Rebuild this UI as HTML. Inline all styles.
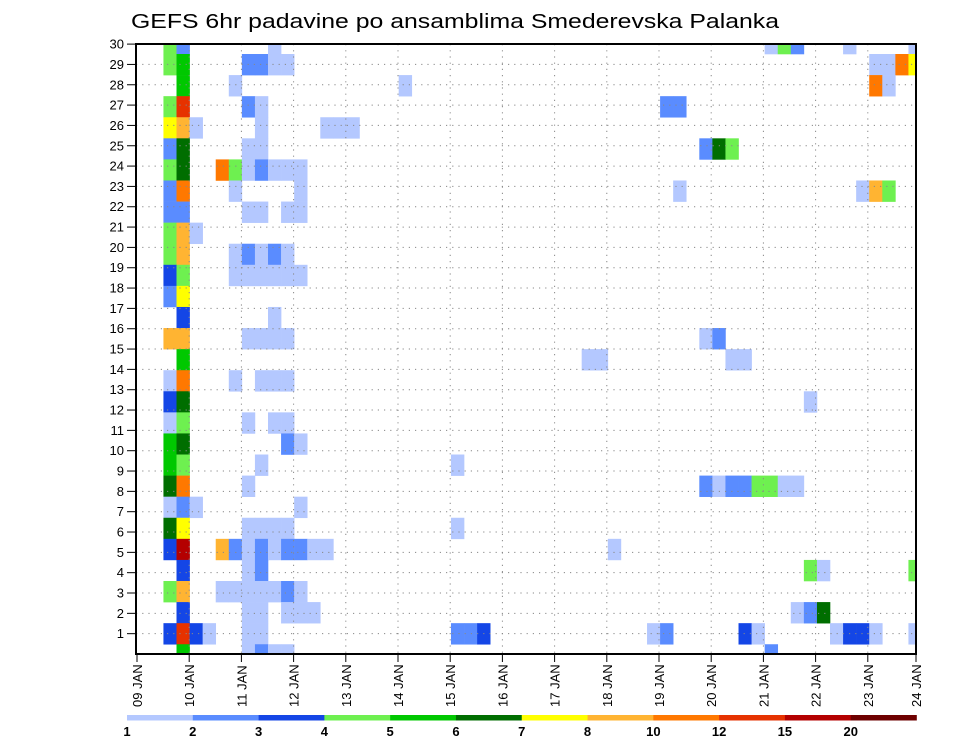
<!DOCTYPE html>
<html><head><meta charset="utf-8"><style>
html,body{margin:0;padding:0;background:#fff;}
svg{display:block;font-family:"Liberation Sans",sans-serif;}
</style></head><body>
<svg id="chart" width="960" height="742" viewBox="0 0 960 742" xmlns="http://www.w3.org/2000/svg">
<rect width="960" height="742" fill="#fff"/>
<text x="131" y="28" font-size="20" textLength="648" lengthAdjust="spacingAndGlyphs" fill="#000">GEFS 6hr padavine po ansamblima Smederevska Palanka</text>
<g id="cells"></g>
<g id="grid"></g>
<g id="axes"></g>
<g id="legend"></g>
</svg>
<script>
// time step index (6h steps from 09 JAN 00Z), ensemble row (member), precipitation value (mm)
const steps = [2,3,10,48,49,50,54,59, 2,3,8,9,10,11,56,57,58,59, 3,7,20,56,57, 2,3,8,9,40,41, 2,3,4,9,14,15,16, 2,3,8,9,43,44,45, 2,3,6,7,8,9,10,11,12, 2,3,7,12,41,55,56,57, 2,3,8,9,11,12, 2,3,4, 2,3,7,8,9,10,11, 2,3,7,8,9,10,11,12, 2,3, 3,10, 2,3,8,9,10,11,43,44, 3,34,35,45,46, 2,3,7,9,10,11, 2,3,51, 2,3,8,10,11, 2,3,11,12, 2,3,9,24, 2,3,8,43,44,45,46,47,48,49,50, 2,3,4,12, 2,3,8,9,10,11,24, 2,3,6,7,8,9,10,11,12,13,14,36, 3,8,9,51,52,59, 2,3,6,7,8,9,10,11,12, 3,8,9,11,12,13,50,51,52, 2,3,4,5,8,9,24,25,26,39,40,46,47,53,54,55,56,59, 3,8,9,10,11,48];
const members = [30,30,30,30,30,30,30,30, 29,29,29,29,29,29,29,29,29,29, 28,28,28,28,28, 27,27,27,27,27,27, 26,26,26,26,26,26,26, 25,25,25,25,25,25,25, 24,24,24,24,24,24,24,24,24, 23,23,23,23,23,23,23,23, 22,22,22,22,22,22, 21,21,21, 20,20,20,20,20,20,20, 19,19,19,19,19,19,19,19, 18,18, 17,17, 16,16,16,16,16,16,16,16, 15,15,15,15,15, 14,14,14,14,14,14, 13,13,13, 12,12,12,12,12, 11,11,11,11, 10,10,10,10, 9,9,9,9,9,9,9,9,9,9,9, 8,8,8,8, 7,7,7,7,7,7,7, 6,6,6,6,6,6,6,6,6,6,6,6, 5,5,5,5,5,5, 4,4,4,4,4,4,4,4,4, 3,3,3,3,3,3,3,3,3, 2,2,2,2,2,2,2,2,2,2,2,2,2,2,2,2,2,2, 1,1,1,1,1,1];
const values = [4.5,2.5,1.5,1.5,4.5,2.5,1.5,1.5, 4.5,5.5,2.5,2.5,1.5,1.5,1.5,1.5,11,7.5, 5.5,1.5,1.5,11,1.5, 4.5,13.5,2.5,1.5,2.5,2.5, 7.5,9,1.5,1.5,1.5,1.5,1.5, 2.5,6.5,1.5,1.5,2.5,6.5,4.5, 4.5,6.5,11,4.5,1.5,2.5,1.5,1.5,1.5, 2.5,11,1.5,1.5,1.5,1.5,9,4.5, 2.5,2.5,1.5,1.5,1.5,1.5, 4.5,9,1.5, 4.5,9,1.5,2.5,1.5,2.5,1.5, 3.5,4.5,1.5,1.5,1.5,1.5,1.5,1.5, 2.5,7.5, 3.5,1.5, 9,9,1.5,1.5,1.5,1.5,1.5,2.5, 5.5,1.5,1.5,1.5,1.5, 1.5,11,1.5,1.5,1.5,1.5, 3.5,6.5,1.5, 1.5,4.5,1.5,1.5,1.5, 5.5,6.5,2.5,1.5, 5.5,4.5,1.5,1.5, 6.5,11,1.5,2.5,1.5,2.5,2.5,4.5,4.5,1.5,1.5, 1.5,2.5,1.5,1.5, 6.5,7.5,1.5,1.5,1.5,1.5,1.5, 3.5,17,9,2.5,1.5,2.5,1.5,2.5,2.5,1.5,1.5,1.5, 3.5,1.5,2.5,4.5,1.5,4.5, 4.5,9,1.5,1.5,1.5,1.5,1.5,2.5,1.5, 3.5,1.5,1.5,1.5,1.5,1.5,1.5,2.5,6.5, 3.5,13.5,3.5,1.5,1.5,1.5,2.5,2.5,3.5,1.5,2.5,3.5,1.5,1.5,3.5,3.5,1.5,1.5, 5.5,1.5,2.5,1.5,1.5,2.5];
const levels = [1,2,3,4,5,6,7,8,10,12,15,20];
const levelColors = ["#b4c8ff","#5a8cff","#1446e6","#6ef050","#00c800","#006e00","#ffff00","#ffb432","#ff7800","#e63200","#b40000","#6e0000"];
const dayLabels = ["09 JAN","10 JAN","11 JAN","12 JAN","13 JAN","14 JAN","15 JAN","16 JAN","17 JAN","18 JAN","19 JAN","20 JAN","21 JAN","22 JAN","23 JAN","24 JAN"];
const memberTicks = [1,2,3,4,5,6,7,8,9,10,11,12,13,14,15,16,17,18,19,20,21,22,23,24,25,26,27,28,29,30];

const NS="http://www.w3.org/2000/svg";
const PL=136, PR=916, PT=44, PB=654;
const X0=137.3, CW=13.07, RH=21.08;
function xStep(k){return X0+k*CW;}
function dayX(d){return d===15?PR:137+d*52.2;}
function rowTop(m){const t=30-m;return t===0?PT:54+(t-1)*RH;}
function rowBot(m){const t=30-m;return t===0?54:Math.min(PB,54+t*RH);}
function tickY(r){return PB-r*20.33;}
function colorFor(v){let i=0;for(let j=0;j<levels.length;j++){if(v>=levels[j])i=j;}return levelColors[i];}
function mk(tag,attrs,parent){const e=document.createElementNS(NS,tag);for(const k in attrs)e.setAttribute(k,attrs[k]);parent.appendChild(e);return e;}

const cells=document.getElementById('cells');
for(let i=0;i<steps.length;i++){
  const x=xStep(steps[i]);const w=Math.min(CW,PR-x);
  const y=rowTop(members[i]);const h=rowBot(members[i])-y;
  const r=mk('rect',{x:x,y:y,width:w+0.3,height:h+0.3,fill:colorFor(values[i])},cells);
  
  
}
const grid=document.getElementById('grid');
for(const r of memberTicks){
  const l=mk('line',{x1:PL,x2:PR,y1:tickY(r),y2:tickY(r),stroke:"#888","stroke-width":1,"stroke-dasharray":"1.2 5"},grid);
  
  
}
for(let d=1;d<15;d++){
  const l=mk('line',{x1:dayX(d),x2:dayX(d),y1:PT,y2:PB,stroke:"#888","stroke-width":1,"stroke-dasharray":"1.2 5"},grid);
  
  
}
const axes=document.getElementById('axes');
const frame=mk('rect',{x:PL,y:PT,width:PR-PL,height:PB-PT,fill:"none",stroke:"#000","stroke-width":2},axes);


for(const r of memberTicks){
  const y=tickY(r);
  const t=mk('line',{x1:127,x2:PL,y1:y,y2:y,stroke:"#000","stroke-width":1},axes);
  
  
  const tx=mk('text',{x:124,y:y+4.5,"font-size":13,"text-anchor":"end",fill:"#000"},axes);
  tx.textContent=String(r);
  
  
}
dayLabels.forEach((lab,d)=>{
  const x=dayX(d);
  const t=mk('line',{x1:x,x2:x,y1:PB,y2:662,stroke:"#000","stroke-width":1},axes);
  
  
  const tx=mk('text',{transform:`translate(${x+5},707) rotate(-90)`,"font-size":13,fill:"#000"},axes);
  tx.textContent=lab;
  
  
});
const leg=document.getElementById('legend');
const LX=127, LW=(916.5-127)/levelColors.length;
levelColors.forEach((c,i)=>{
  const r=mk('rect',{x:LX+i*LW,y:715,width:LW+0.3,height:5.5,fill:c},leg);
  
  
});
levels.forEach((v,i)=>{
  const tx=mk('text',{x:LX+i*LW,y:736,"font-size":13,"font-weight":"bold","text-anchor":"middle",fill:"#000"},leg);
  tx.textContent=String(v);
  
  
});
</script>
</body></html>
